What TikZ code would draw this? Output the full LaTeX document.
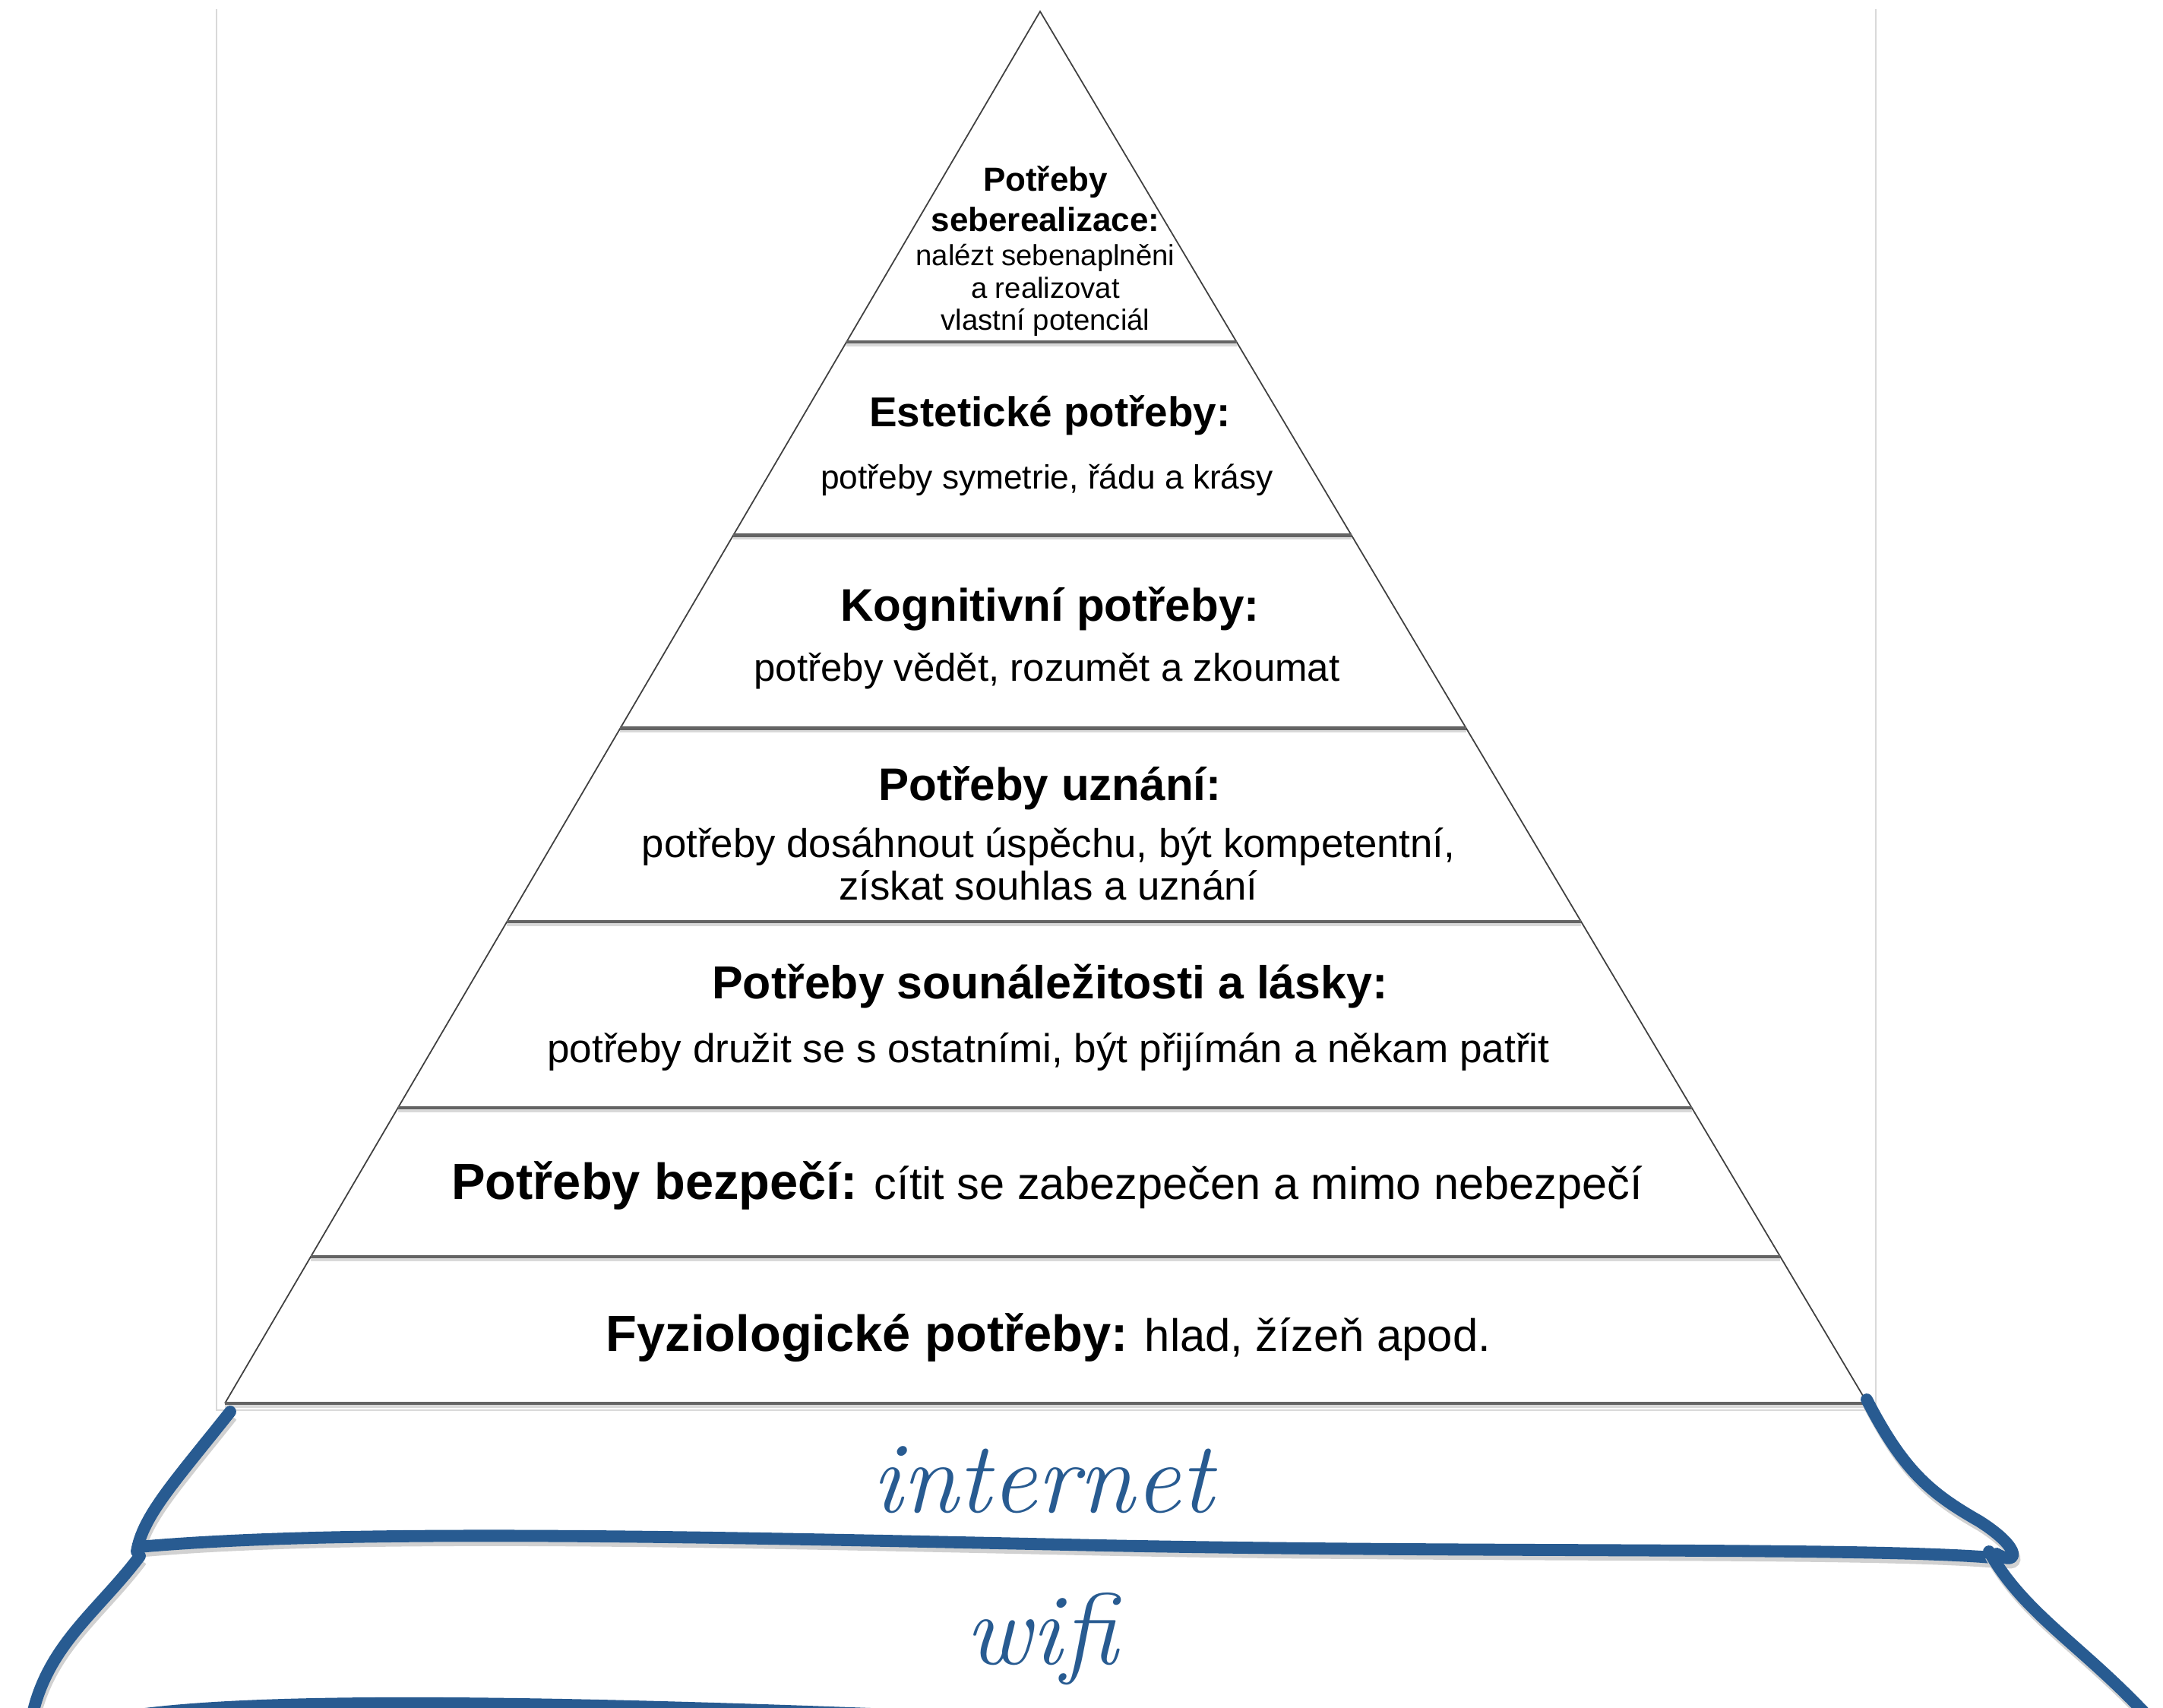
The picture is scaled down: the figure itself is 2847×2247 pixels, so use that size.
\documentclass[tikz,border=0pt]{standalone}
\usepackage{fontspec}
\setsansfont{Liberation Sans}
\usetikzlibrary{calc}
\usetikzlibrary{positioning}
\definecolor{handblue}{RGB}{40,91,145}
\definecolor{levelgray}{RGB}{100,100,100}
\newcommand{\lvlfont}[2]{\fontsize{#1pt}{#2pt}\selectfont}

\begin{document}
\begin{tikzpicture}[x=0.01cm,y=-0.01cm]

		\tikzset{side/.style={draw=black!75,line width=0.5pt}}
		\tikzset{level/.style={draw=levelgray,line width=1.3pt,
				preaction={draw=black!15,line width=1.3pt,transform canvas={yshift=-1pt}}}}
		\tikzset{frame/.style={draw=black!15,line width=0.6pt}}
		\tikzset{hand/.style={draw=handblue,line width=4.5pt,line cap=round,line join=round,
				preaction={draw=black!18,line width=4.5pt,transform canvas={shift={(0.6pt,-1.6pt)}}}}}
		\tikzset{head/.style 2 args={align=center,inner sep=0pt,font=\sffamily\bfseries\lvlfont{#1}{#2}}}
		\tikzset{body/.style 2 args={align=center,inner sep=0pt,font=\sffamily\lvlfont{#1}{#2}}}
		\tikzset{scribble/.style={inner sep=0pt,anchor=base,text=handblue,font=\rmfamily\itshape\lvlfont{38}{40}}}

		\fill[white] (0,0) rectangle (2847,2247);
		\useasboundingbox (0,0) rectangle (2847,2247);

		% pyramid: apex and base corners
		\coordinate (apex) at (1369,15);
		\coordinate (bl) at (296,1847);
		\coordinate (br) at (2458,1847);

		\draw[frame] (285,12) -- (285,1856) -- (2469,1856) -- (2469,12);

		\draw[side] (bl) -- (apex) -- (br);
		\foreach \t in {0.2374,0.3764,0.5151,0.6539,0.7877,0.8947,1}
			\draw[level] ($(apex)!\t!(bl)$) -- ($(apex)!\t!(br)$);

		\node[head={12.5}{15}] (self-h) at (1376,262) {Potřeby\\seberealizace:};
		\node[body={10.9}{12}] (self-t) at (1376,382) {nalézt sebenaplněni\\a realizovat\\vlastní potenciál};

		\node[head={15.6}{18}] (esth-h) at (1382,547) {Estetické potřeby:};
		\node[body={12.6}{15}] (esth-t) at (1378,632) {potřeby symetrie, řádu a krásy};

		\node[head={17.1}{20}] (cogn-h) at (1382,801) {Kognitivní potřeby:};
		\node[body={14.5}{17}] (cogn-t) at (1378,883) {potřeby vědět, rozumět a zkoumat};

		\node[head={17.1}{20}] (este-h) at (1382,1037) {Potřeby uznání:};
		\node[body={15}{15.9}] (este-t) at (1380,1137) {potřeby dosáhnout úspěchu, být kompetentní,\\získat souhlas a uznání};

		\node[head={17.3}{20}] (love-h) at (1382,1298) {Potřeby sounáležitosti a lásky:};
		\node[body={15.1}{18}] (love-t) at (1380,1384) {potřeby družit se s ostatními, být přijímán a někam patřit};

		\node[body={16.9}{20}] (safe) at (1378,1560) {{\bfseries\lvlfont{19}{22}Potřeby bezpečí:} cítit se zabezpečen a mimo nebezpečí};
		\node[body={17}{20}] (phys) at (1380,1761) {{\bfseries\lvlfont{19}{22}Fyziologické potřeby:} hlad, žízeň apod.};

		% hand drawn extra layers
		\draw[hand] (303,1858) .. controls (230,1950) and (188,1995) .. (180,2042);
		\draw[hand] (182,2036) .. controls (450,2012) and (900,2022) .. (1450,2034) .. controls (1950,2044) and (2450,2036) .. (2622,2050);
		\draw[hand] (2457,1842) .. controls (2505,1935) and (2540,1965) .. (2605,2002) .. controls (2665,2040) and (2655,2062) .. (2628,2045);
		\draw[hand] (184,2048) .. controls (130,2120) and (62,2165) .. (42,2260);
		\draw[hand] (2618,2042) .. controls (2665,2125) and (2740,2165) .. (2830,2262);
		\draw[hand] (150,2262) .. controls (300,2235) and (650,2235) .. (1300,2262);

		\node[scribble] (net) at (1372,1990) {internet};
		\node[scribble] (wifi) at (1371,2190) {wifi};

	\end{tikzpicture}
\end{document}
